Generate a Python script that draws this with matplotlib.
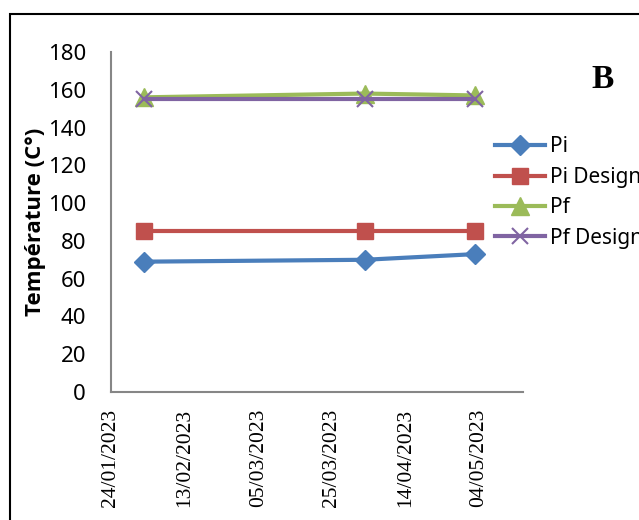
import datetime as dt
import matplotlib
matplotlib.use("Agg")
import matplotlib.pyplot as plt
import matplotlib.dates as mdates
from matplotlib.patches import Rectangle

# sampling dates and measured / design temperatures
dates = [dt.date(2023, 2, 2), dt.date(2023, 4, 3), dt.date(2023, 5, 3)]
pi = [69, 70, 73]
pi_design = [85, 85, 85]
pf = [156, 158, 157]
pf_design = [155, 155, 155]

tick_dates = [dt.date(2023, 1, 24), dt.date(2023, 2, 13), dt.date(2023, 3, 5),
              dt.date(2023, 3, 25), dt.date(2023, 4, 14), dt.date(2023, 5, 4)]

fig = plt.figure(figsize=(6.39, 5.20), dpi=100)
ax = fig.add_axes([111 / 639, 1 - 392 / 520, (523 - 111) / 639, (392 - 52) / 520])

ax.plot(dates, pi, color='#4A7EBB', lw=3, marker='D', ms=10, label='Pi')
ax.plot(dates, pi_design, color='#C0504D', lw=3, marker='s', ms=12, label='Pi Design')
ax.plot(dates, pf, color='#9BBB59', lw=3, marker='^', ms=13, label='Pf')
ax.plot(dates, pf_design, color='#8064A2', lw=3, marker='x', ms=12, mew=1.5, label='Pf Design')

ax.set_ylim(0, 180)
ax.set_yticks(range(0, 181, 20))
ax.set_xlim(dt.date(2023, 1, 24), dt.date(2023, 5, 16))
ax.set_xticks(tick_dates)
ax.xaxis.set_major_formatter(mdates.DateFormatter('%d/%m/%Y'))

for lab in ax.get_yticklabels():
    lab.set_fontfamily('Noto Sans')
    lab.set_fontsize(16)
for lab in ax.get_xticklabels():
    lab.set_fontfamily('Liberation Serif')
    lab.set_fontsize(15.5)
    lab.set_rotation(90)

ax.tick_params(length=0)
ax.tick_params(axis='y', pad=18)
ax.tick_params(axis='x', pad=12)
for side in ['top', 'right']:
    ax.spines[side].set_visible(False)
for side in ['left', 'bottom']:
    ax.spines[side].set_color('#868686')
    ax.spines[side].set_linewidth(1.5)

ax.set_ylabel('Température (C°)', fontfamily='Open Sans', fontweight='bold',
              fontsize=16, labelpad=1)

fig.legend(loc='upper left', bbox_to_anchor=(485 / 639, 1 - 126 / 520),
           frameon=False, prop={'family': 'Noto Sans', 'size': 15},
           handlelength=2.4, handletextpad=0.2, labelspacing=0.45, borderpad=0)

fig.text(603 / 639, 1 - 80 / 520, 'B', fontfamily='Liberation Serif',
         fontweight='bold', fontsize=24, ha='center', va='center')

# outer frame, running off the right and bottom edges
fig.patches.append(Rectangle((10 / 639, -0.1), 1.2, 1 - 14 / 520 + 0.1,
                             transform=fig.transFigure, fill=False,
                             edgecolor='black', lw=1.5))

fig.savefig('out.png', dpi=100)
